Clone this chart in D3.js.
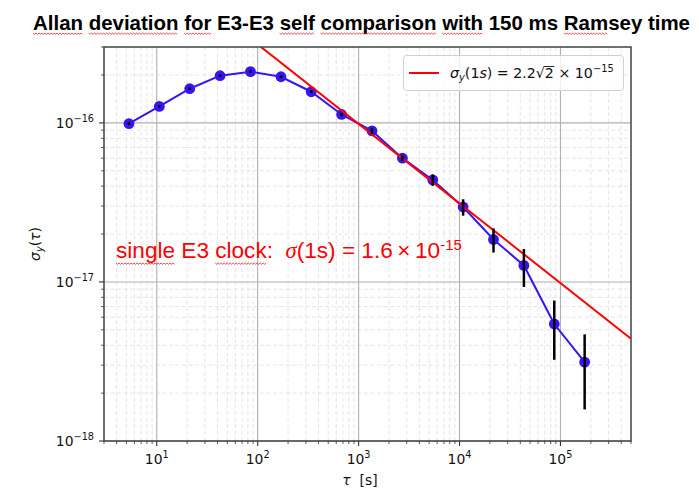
<!DOCTYPE html>
<html>
<head>
<meta charset="utf-8">
<title>Allan deviation</title>
<script src="https://d3js.org/d3.v7.min.js"></script>
<style>
body { margin:0; background:#fff; }
svg { display:block; }
text { white-space: pre; }
</style>
</head>
<body>
<svg id="chart" width="699" height="500"></svg>
<script>
// averaging time tau [s]
var tau = [5.3, 10.6, 21.2, 42.4, 84.8, 170, 339, 678, 1357, 2714, 5427, 10854, 21709, 43418, 86835, 173670];
// Allan deviation sigma_y(tau)
var adev = [0.99e-16, 1.27e-16, 1.64e-16, 1.98e-16, 2.10e-16, 1.95e-16, 1.57e-16, 1.13e-16, 0.89e-16,
            6.0e-17, 4.38e-17, 2.96e-17, 1.85e-17, 1.27e-17, 5.44e-18, 3.13e-18];
// error bars (+/-)
var adevErr = [0.2e-17, 0.25e-17, 0.3e-17, 0.35e-17, 0.4e-17, 0.35e-17, 0.3e-17, 0.3e-17, 0.4e-17,
               0.25e-17, 0.36e-17, 0.35e-17, 0.32e-17, 0.34e-17, 0.22e-17, 0.155e-17];
// white frequency noise line, 2.2*sqrt(2)e-15 at 1 s
var fitTau = [3, 5e5];
var fitSigma = [1.80e-15, 4.40e-18];

var xTicks = [1e1, 1e2, 1e3, 1e4, 1e5];
var xTickExp = ["1", "2", "3", "4", "5"];
var yTicks = [1e-18, 1e-17, 1e-16];
var yTickExp = ["\u221218", "\u221217", "\u221216"];

var titleText = "Allan deviation for E3-E3 self comparison with 150 ms Ramsey time";
var titleMarked = [["Allan",5],["deviation",9],["for",3],["self",4],["comparison",10],["with",4],["Ramsey",3]];

var L = 104, R = 631, T = 47, B = 441;
var svg = d3.select("#chart");
var x = d3.scaleLog([3, 5e5], [L, R]);
var y = d3.scaleLog([1e-18, 3e-16], [B, T]);

var xMinor = [], yMinor = [];
for (var e = 0; e <= 5; e++) for (var m = 2; m <= 9; m++) {
  var v = m * Math.pow(10, e);
  if (v >= 3 && v <= 5e5) xMinor.push(v);
}
for (var e = -18; e <= -16; e++) for (var m = 2; m <= 9; m++) {
  var v = m * Math.pow(10, e);
  if (v <= 3.01e-16) yMinor.push(v);
}

// grid
var grid = svg.append("g");
grid.selectAll(".xm").data(xMinor).join("line")
  .attr("x1", d => x(d)).attr("x2", d => x(d)).attr("y1", T).attr("y2", B)
  .attr("stroke", "#dedede").attr("stroke-width", 0.8).attr("stroke-dasharray", "4,2.5");
grid.selectAll(".ym").data(yMinor).join("line")
  .attr("y1", d => y(d)).attr("y2", d => y(d)).attr("x1", L).attr("x2", R)
  .attr("stroke", "#dedede").attr("stroke-width", 0.8).attr("stroke-dasharray", "4,2.5");
grid.selectAll(".xM").data(xTicks).join("line")
  .attr("x1", d => x(d)).attr("x2", d => x(d)).attr("y1", T).attr("y2", B)
  .attr("stroke", "#b0b0b0").attr("stroke-width", 1.1);
grid.selectAll(".yM").data(yTicks).join("line")
  .attr("y1", d => y(d)).attr("y2", d => y(d)).attr("x1", L).attr("x2", R)
  .attr("stroke", "#b0b0b0").attr("stroke-width", 1.1);

var clip = svg.append("clipPath").attr("id", "clip").append("rect")
  .attr("x", L).attr("y", T).attr("width", R - L).attr("height", B - T);
var plot = svg.append("g").attr("clip-path", "url(#clip)");

// data
var pts = tau.map((t, i) => ({t: t, s: adev[i], e: adevErr[i]}));
plot.append("path").datum(pts)
  .attr("d", d3.line().x(d => x(d.t)).y(d => y(d.s)))
  .attr("fill", "none").attr("stroke", "#3a14f0").attr("stroke-width", 2);
plot.selectAll("circle").data(pts).join("circle")
  .attr("cx", d => x(d.t)).attr("cy", d => y(d.s)).attr("r", 5.4)
  .attr("fill", "#3a14f0");

// fit line
plot.append("path").datum(fitTau.map((t, i) => [t, fitSigma[i]]))
  .attr("d", d3.line().x(d => x(d[0])).y(d => y(d[1])))
  .attr("fill", "none").attr("stroke", "#ff0000").attr("stroke-width", 2);

// error bars
plot.selectAll(".err").data(pts).join("line")
  .attr("x1", d => x(d.t)).attr("x2", d => x(d.t))
  .attr("y1", d => y(d.s + d.e)).attr("y2", d => y(d.s - d.e))
  .attr("stroke", "#000").attr("stroke-width", 2.5);

// spines
svg.append("rect").attr("x", L).attr("y", T).attr("width", R - L).attr("height", B - T)
  .attr("fill", "none").attr("stroke", "#444").attr("stroke-width", 1.5);

// ticks
var tk = svg.append("g").attr("stroke", "#333");
tk.selectAll(".a").data(xTicks).join("line")
  .attr("x1", d => x(d)).attr("x2", d => x(d)).attr("y1", B).attr("y2", B + 5).attr("stroke-width", 1.1);
tk.selectAll(".b").data(xMinor).join("line")
  .attr("x1", d => x(d)).attr("x2", d => x(d)).attr("y1", B).attr("y2", B + 3).attr("stroke-width", 0.8);
tk.selectAll(".c").data(yTicks).join("line")
  .attr("y1", d => y(d)).attr("y2", d => y(d)).attr("x1", L).attr("x2", L - 5).attr("stroke-width", 1.1);
tk.selectAll(".d").data(yMinor).join("line")
  .attr("y1", d => y(d)).attr("y2", d => y(d)).attr("x1", L).attr("x2", L - 3).attr("stroke-width", 0.8);

var font = "DejaVu Sans";
var xl = svg.append("g").attr("font-family", font).attr("font-size", 13.9).attr("fill", "#111");
xl.selectAll("text").data(xTicks).join("text")
  .attr("x", d => x(d)).attr("y", B + 22.5).attr("text-anchor", "middle")
  .each(function(d, i) {
    var t = d3.select(this);
    t.append("tspan").text("10");
    t.append("tspan").attr("font-size", 9.7).attr("dy", -6).text(xTickExp[i]);
  });
var yl = svg.append("g").attr("font-family", font).attr("font-size", 13.9).attr("fill", "#111");
yl.selectAll("text").data(yTicks).join("text")
  .attr("x", L - 10).attr("y", d => y(d) + 5).attr("text-anchor", "end")
  .each(function(d, i) {
    var t = d3.select(this);
    t.append("tspan").text("10");
    t.append("tspan").attr("font-size", 9.7).attr("dy", -6).text(yTickExp[i]);
  });

// axis labels
var xlab = svg.append("text").attr("x", 360).attr("y", 485).attr("text-anchor", "middle")
  .attr("font-family", font).attr("font-size", 13.9).attr("fill", "#111");
xlab.append("tspan").attr("font-style", "italic").text("\u03c4");
xlab.append("tspan").text("  [s]");

var ylab = svg.append("text").attr("transform", "translate(40,244) rotate(-90)")
  .attr("text-anchor", "middle").attr("font-family", font).attr("font-size", 13.9).attr("fill", "#111");
ylab.append("tspan").attr("font-style", "italic").text("\u03c3");
ylab.append("tspan").attr("font-style", "italic").attr("font-size", 9.7).attr("dy", 3).text("y");
ylab.append("tspan").attr("dy", -3).text("(");
ylab.append("tspan").attr("font-style", "italic").text("\u03c4");
ylab.append("tspan").text(")");

// legend
var lg = svg.append("g");
lg.append("rect").attr("x", 403.5).attr("y", 55.5).attr("width", 220).attr("height", 35).attr("rx", 3)
  .attr("fill", "#fff").attr("fill-opacity", 0.8).attr("stroke", "#d0d0d0");
lg.append("line").attr("x1", 409).attr("x2", 439).attr("y1", 73).attr("y2", 73)
  .attr("stroke", "#ff0000").attr("stroke-width", 2);
var lt = lg.append("text").attr("x", 450).attr("y", 78).attr("font-family", font)
  .attr("font-size", 14.2).attr("fill", "#111");
lt.append("tspan").attr("font-style", "italic").text("\u03c3");
lt.append("tspan").attr("font-style", "italic").attr("font-size", 9.9).attr("dy", 3).text("y");
lt.append("tspan").attr("dy", -3).text("(1");
lt.append("tspan").attr("font-style", "italic").text("s");
lt.append("tspan").text(") = 2.2\u221a2 \u00d7 10");
lt.append("tspan").attr("font-size", 9.9).attr("dy", -6).text("\u221215");
var full = lt.node().textContent;
var ri = full.indexOf("\u221a");
var rb = lt.node().getExtentOfChar(ri);
var r2 = lt.node().getEndPositionOfChar(ri + 1);
lg.append("line").attr("x1", rb.x + rb.width - 0.5).attr("x2", r2.x + 0.5)
  .attr("y1", rb.y + 1.5).attr("y2", rb.y + 1.5).attr("stroke", "#111").attr("stroke-width", 0.9);

// title
var title = svg.append("text").attr("x", 33).attr("y", 30)
  .attr("font-family", "Liberation Sans, Arial, sans-serif").attr("font-weight", "bold")
  .attr("font-size", 20.5).attr("fill", "#000")
  .attr("textLength", 657).attr("lengthAdjust", "spacingAndGlyphs").text(titleText);

function squiggle(x0, x1, yy) {
  var p = "M" + x0 + "," + yy, k = 0;
  for (var xx = x0 + 1.5; xx <= x1; xx += 1.5) { k++; p += "L" + xx + "," + (yy + (k % 2 ? 1.3 : 0)); }
  return p;
}
function markWords(node, str, words, yy) {
  words.forEach(function(w) {
    var i = str.indexOf(w[0]);
    var a = node.getStartPositionOfChar(i).x;
    var b = node.getEndPositionOfChar(i + w[1] - 1).x;
    svg.append("path").attr("d", squiggle(a, b, yy)).attr("fill", "none")
      .attr("stroke", "#e8202a").attr("stroke-width", 0.8);
  });
}
markWords(title.node(), titleText, titleMarked, 33);

// annotation
var note = svg.append("text").attr("x", 116).attr("y", 258)
  .attr("font-family", "Liberation Sans, Arial, sans-serif").attr("font-size", 22.6).attr("fill", "#ff0000");
note.append("tspan").text("single E3 clock:  ");
note.append("tspan").attr("font-family", "Liberation Serif").attr("font-style", "italic").text("\u03c3");
note.append("tspan").text("(1s) = 1.6\u2009\u00d7\u200910");
note.append("tspan").attr("font-size", 15).attr("dy", -8.5).text("-15");
markWords(note.node(), note.node().textContent, [["single",6],["clock",5]], 263);
</script>
</body>
</html>
